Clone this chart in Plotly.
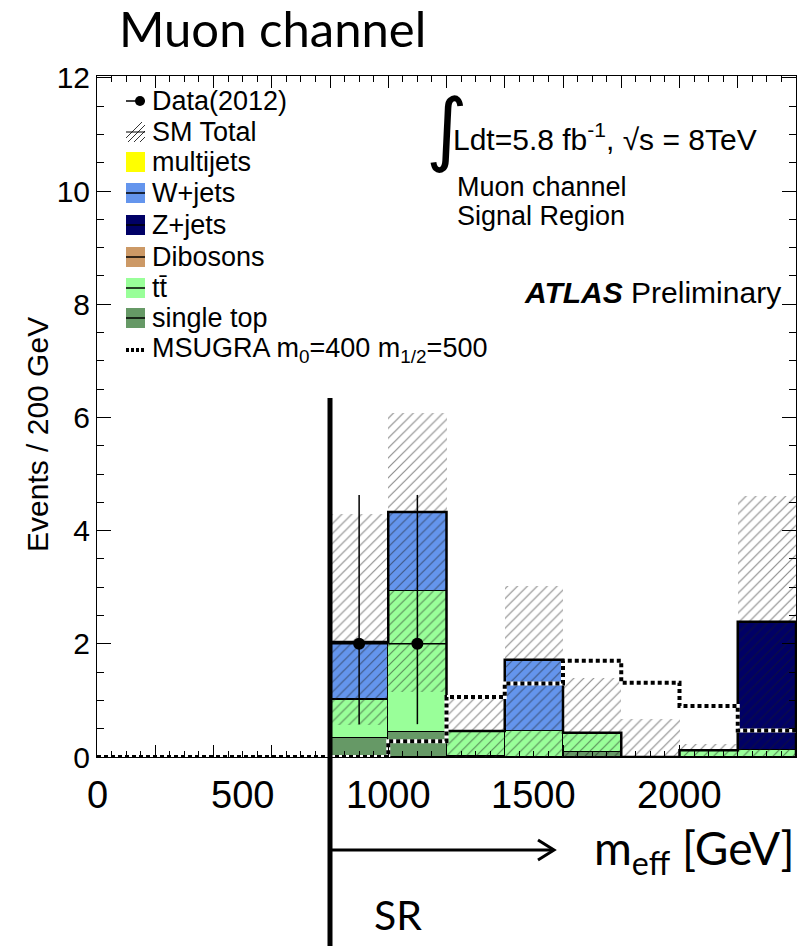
import plotly.graph_objects as go

# ---------------- data ----------------
bin_lo = [800, 1000, 1200, 1400, 1600, 1800, 2000, 2200]
bin_w = 200
single_top = [0.34, 0.45, 0.01, 0.00, 0.08, 0.00, 0.00, 0.00]
ttbar      = [0.66, 2.48, 0.45, 0.46, 0.35, 0.00, 0.12, 0.12]
dibosons   = [0.00, 0.00, 0.00, 0.00, 0.00, 0.00, 0.00, 0.00]
z_jets     = [0.02, 0.00, 0.00, 0.00, 0.00, 0.00, 0.00, 2.27]
w_jets     = [1.01, 1.40, 0.00, 1.26, 0.00, 0.00, 0.00, 0.00]
multijets  = [0.00, 0.00, 0.00, 0.00, 0.00, 0.00, 0.00, 0.00]
band_lo    = [0.57, 1.14, 0.00, 0.00, 0.00, 0.00, 0.00, 0.00]
band_hi    = [4.29, 6.08, 1.02, 3.02, 1.40, 0.67, 0.23, 4.61]
data       = [2, 2, 0, 0, 0, 0, 0, 0]
data_up    = [2.63, 2.63, 0, 0, 0, 0, 0, 0]
data_dn    = [1.42, 1.42, 0, 0, 0, 0, 0, 0]
msugra_lo  = [0, 200, 400, 600, 800, 1000, 1200, 1400, 1600, 1800, 2000, 2200]
msugra     = [0, 0, 0, 0, 0, 0.28, 1.06, 1.30, 1.70, 1.31, 0.90, 0.47]
x_tick_labels = [0, 500, 1000, 1500, 2000]

components = [
    ("single top", single_top, "#669966"),
    ("tt", ttbar, "#99ff99"),
    ("Dibosons", dibosons, "#cc9966"),
    ("Z+jets", z_jets, "#000066"),
    ("W+jets", w_jets, "#6495ed"),
    ("multijets", multijets, "#ffff00"),
]

# ---------------- geometry ----------------
W, H = 802, 946
L, R, T, B = 97, 796, 76, 757
XMAX = 2400
YMAX = (B - T) / 56.6

def px(x):
    return (x - L) / (R - L)

def py(y):
    return (B - y) / (B - T)

def dx(v):
    return v / XMAX

ROOT = "Liberation Sans, Arial, sans-serif"
SLIDE = "Lato, Carlito, sans-serif"

fig = go.Figure()
centers = [b + bin_w / 2 for b in bin_lo]

base = [0.0] * len(bin_lo)
for name, vals, col in components:
    fig.add_trace(go.Bar(
        x=centers, y=vals, base=list(base), width=bin_w,
        marker=dict(color=col, line=dict(color="black", width=1)),
        showlegend=False, hoverinfo="skip"))
    base = [b + v for b, v in zip(base, vals)]
total = base

# uncertainty band (hatched)
fig.add_trace(go.Bar(
    x=centers, y=[h - l for h, l in zip(band_hi, band_lo)], base=band_lo, width=bin_w,
    marker=dict(color="rgba(0,0,0,0)", line=dict(width=0),
                pattern=dict(shape="/", fgcolor="#1a1a1a", bgcolor="rgba(0,0,0,0)",
                             size=7, solidity=0.17, fillmode="overlay")),
    showlegend=False, hoverinfo="skip"))

# SM total outline
sx = [bin_lo[0]] + bin_lo + [bin_lo[-1] + bin_w, bin_lo[-1] + bin_w]
sy = [0] + total + [total[-1], 0]
fig.add_trace(go.Scatter(x=sx, y=sy, mode="lines", line=dict(shape="hv", color="black", width=2.5),
                         showlegend=False, hoverinfo="skip"))

# MSUGRA signal (dotted step)
mx = msugra_lo + [msugra_lo[-1] + bin_w]
my = msugra + [msugra[-1]]
fig.add_trace(go.Scatter(x=mx, y=my, mode="lines", line=dict(shape="hv", color="white", width=4),
                         showlegend=False, hoverinfo="skip"))
fig.add_trace(go.Scatter(x=mx, y=my, mode="lines", line=dict(shape="hv", color="black", width=4, dash="4px,3px"),
                         showlegend=False, hoverinfo="skip"))

# data
dxs = [c for c, d in zip(centers, data) if d > 0]
dys = [d for d in data if d > 0]
dup = [u for u, d in zip(data_up, data) if d > 0]
ddn = [u for u, d in zip(data_dn, data) if d > 0]
fig.add_trace(go.Scatter(
    x=dxs, y=dys, mode="markers",
    marker=dict(color="black", size=12, symbol="circle"),
    error_y=dict(type="data", symmetric=False, array=dup, arrayminus=ddn, thickness=1.5, width=0, color="black"),
    error_x=dict(type="constant", value=bin_w / 2, thickness=1.5, width=0, color="black"),
    showlegend=False, hoverinfo="skip"))

shapes = []
ann = []

def text(x, y, s, size, font=ROOT, xanchor="left", color="black", angle=0):
    ann.append(dict(x=px(x), y=py(y), xref="paper", yref="paper", text=s, showarrow=False,
                    xanchor=xanchor, yanchor="middle", textangle=angle,
                    font=dict(family=font, size=size, color=color)))

# legend
leg_y = [101, 132, 162, 193, 225, 257, 288, 318, 350]
leg_txt = ["Data(2012)", "SM Total", "multijets", "W+jets", "Z+jets", "Dibosons",
           "tt\u0304", "single top", "MSUGRA m<sub>0</sub>=400 m<sub>1/2</sub>=500"]
for yy, tt in zip(leg_y, leg_txt):
    text(150, yy, tt, 27)
bx0, bx1 = 126, 145
# data symbol
shapes.append(dict(type="line", xref="paper", yref="paper", x0=px(bx0), x1=px(bx1),
                   y0=py(leg_y[0]), y1=py(leg_y[0]), line=dict(color="black", width=1.5)))
shapes.append(dict(type="circle", xref="paper", yref="paper", x0=px(bx1 - 10), x1=px(bx1 - 0),
                   y0=py(leg_y[0] + 5), y1=py(leg_y[0] - 5), fillcolor="black", line=dict(width=0)))
# SM total hatch symbol
yy = leg_y[1]
for k in range(4):
    x0 = bx0 - 4 + 6 * k
    shapes.append(dict(type="line", xref="paper", yref="paper", x0=px(max(bx0, x0)), y0=py(yy + 10 - (max(bx0, x0) - x0)),
                       x1=px(min(bx1, x0 + 20)), y1=py(yy - 10 + (x0 + 20 - min(bx1, x0 + 20))),
                       line=dict(color="#333", width=1)))
shapes.append(dict(type="line", xref="paper", yref="paper", x0=px(bx0), x1=px(bx1),
                   y0=py(yy), y1=py(yy), line=dict(color="black", width=1)))
legcols = {"multijets": "#ffff00", "W+jets": "#6495ed", "Z+jets": "#000066",
           "Dibosons": "#cc9966", "tt": "#99ff99", "single top": "#669966"}
for i, key in enumerate(["multijets", "W+jets", "Z+jets", "Dibosons", "tt", "single top"]):
    yy = leg_y[2 + i]
    shapes.append(dict(type="rect", xref="paper", yref="paper", x0=px(bx0), x1=px(bx1),
                       y0=py(yy + 10), y1=py(yy - 10), fillcolor=legcols[key], line=dict(width=0)))
    if key != "multijets":
        shapes.append(dict(type="line", xref="paper", yref="paper", x0=px(bx0), x1=px(bx1),
                           y0=py(yy), y1=py(yy), line=dict(color="black", width=1.5)))
shapes.append(dict(type="line", xref="paper", yref="paper", x0=px(bx0), x1=px(bx1),
                   y0=py(leg_y[8]), y1=py(leg_y[8]), line=dict(color="black", width=4, dash="3px,2px")))

# top right texts
text(424, 128, "\u222b", 80, font="DejaVu Sans")
text(451, 137, "Ldt=5.8 fb<sup>-1</sup>, \u221as = 8TeV", 30)
text(455, 187, "Muon channel", 27)
text(455, 216, "Signal Region", 27)
text(783, 292, "<b><i>ATLAS</i></b> Preliminary", 30, xanchor="right")

# x tick labels
for v in x_tick_labels:
    ann.append(dict(x=v, y=py(795), xref="x", yref="paper", text=str(v), showarrow=False,
                    xanchor="center", yanchor="middle", font=dict(family=ROOT, size=38, color="black")))

# y title
text(37, 435, "Events / 200 GeV", 30, angle=-90, xanchor="center")

# slide annotations
text(117, 28, "Muon channel", 49, font=SLIDE)
text(797, 851, "m<sub>eff</sub> [GeV]", 46, font=SLIDE, xanchor="right")
text(372, 914, "SR", 41, font=SLIDE)

# SR line and arrow
shapes.append(dict(type="line", xref="paper", yref="paper", x0=dx(800), x1=dx(800),
                   y0=py(398), y1=py(946), line=dict(color="black", width=5)))
shapes.append(dict(type="line", xref="paper", yref="paper", x0=px(330), x1=px(553),
                   y0=py(850), y1=py(850), line=dict(color="black", width=3)))
shapes.append(dict(type="path", xref="paper", yref="paper",
                   path=f"M {px(538)} {py(840)} L {px(554)} {py(850)} L {px(538)} {py(860)}",
                   line=dict(color="black", width=3)))

fig.update_layout(
    width=W, height=H, autosize=False,
    margin=dict(l=L, r=W - R, t=T, b=H - B, pad=0),
    paper_bgcolor="white", plot_bgcolor="white",
    barmode="overlay", bargap=0, showlegend=False,
    shapes=shapes, annotations=ann,
    xaxis=dict(range=[0, XMAX], showticklabels=False, ticks="inside", ticklen=12, tick0=0, dtick=200,
               tickcolor="black", minor=dict(dtick=50, ticklen=6, ticks="inside", tickcolor="black"),
               showline=True, linecolor="black", linewidth=1, mirror="ticks",
               showgrid=False, zeroline=False),
    yaxis=dict(range=[0, YMAX], ticks="inside", ticklen=14, tick0=0, dtick=2, tickcolor="black",
               minor=dict(dtick=0.5, ticklen=7, ticks="inside", tickcolor="black"),
               showline=True, linecolor="black", linewidth=1, mirror="ticks",
               showgrid=False, zeroline=False,
               tickfont=dict(family=ROOT, size=30, color="black")),
)

fig.write_html("out.html", config={"displayModeBar": False},
               post_script="document.body.style.margin='0';document.body.style.padding='0';")
